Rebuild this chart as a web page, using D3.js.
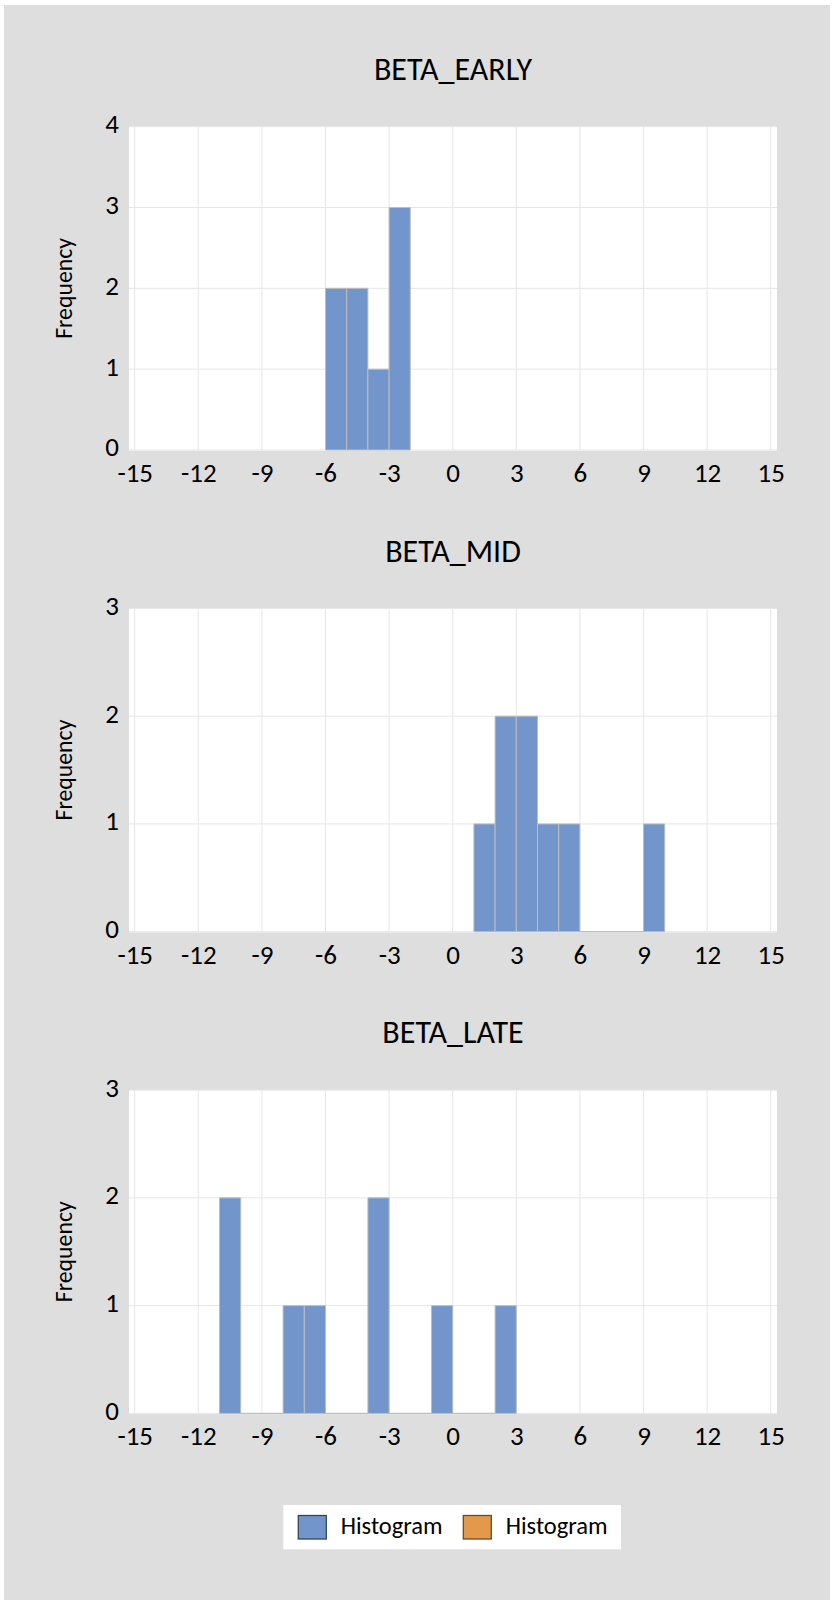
<!DOCTYPE html>
<html>
<head>
<meta charset="utf-8">
<script src="https://cdn.jsdelivr.net/npm/d3@7/dist/d3.min.js"></script>
<style>
  html, body { margin: 0; padding: 0; background: #ffffff; }
  svg { display: block; }
  text { font-family: Carlito, Calibri, Lato, "Open Sans", sans-serif; fill: #000; }
</style>
</head>
<body>
<svg id="chart" width="833" height="1604"></svg>
<script>
// Bin edges are 1 unit wide; each start value is paired with its count.
const binWidth = 1;

const earlyBinStarts = [-6, -5, -4, -3];
const earlyCounts    = [2, 2, 1, 3];

const midBinStarts = [1, 2, 3, 4, 5, 6, 7, 8, 9];
const midCounts    = [1, 2, 2, 1, 1, 0, 0, 0, 1];

const lateBinStarts = [-11, -10, -9, -8, -7, -6, -5, -4, -3, -2, -1, 0, 1, 2];
const lateCounts    = [2, 0, 0, 1, 1, 0, 0, 2, 0, 0, 1, 0, 0, 1];

const panelTitles = ["BETA_EARLY", "BETA_MID", "BETA_LATE"];
const xTickValues = [-15, -12, -9, -6, -3, 0, 3, 6, 9, 12, 15];
const earlyYTicks = [0, 1, 2, 3, 4];
const midYTicks   = [0, 1, 2, 3];
const lateYTicks  = [0, 1, 2, 3];

const legendLabels = ["Histogram", "Histogram"];
const legendColors = ["#7295cb", "#e3994b"];
const legendEdges  = ["#34455f", "#6b4a25"];

const panels = [
  { title: panelTitles[0], starts: earlyBinStarts, counts: earlyCounts, yTicks: earlyYTicks },
  { title: panelTitles[1], starts: midBinStarts,   counts: midCounts,   yTicks: midYTicks },
  { title: panelTitles[2], starts: lateBinStarts,  counts: lateCounts,  yTicks: lateYTicks }
];

const svg = d3.select("#chart");
const fontStack = "Carlito, Calibri, Lato, sans-serif";
const plainNumber = d => String(d); // keeps an ASCII hyphen for negatives

// grey chart area
svg.append("rect")
  .attr("x", 4).attr("y", 5)
  .attr("width", 826).attr("height", 1595)
  .attr("fill", "#dedede");

const plotLeft = 129, plotRight = 777;
const firstTop = 126.7, panelStep = 481.7, plotHeight = 323.3;

panels.forEach((p, i) => {
  const top = firstTop + i * panelStep;
  const bottom = top + plotHeight;
  const g = svg.append("g");

  const x = d3.scaleLinear().domain([-15, 15]).range([134.7, 770.7]);
  const yMax = d3.max(p.yTicks);
  const y = d3.scaleLinear().domain([0, yMax]).range([bottom, top]);

  // plot area
  g.append("rect")
    .attr("x", plotLeft).attr("y", top)
    .attr("width", plotRight - plotLeft).attr("height", plotHeight + 0.7)
    .attr("fill", "#ffffff");

  // vertical gridlines
  g.selectAll("line.vg").data(xTickValues).join("line")
    .attr("class", "vg")
    .attr("x1", d => x(d)).attr("x2", d => x(d))
    .attr("y1", top).attr("y2", bottom)
    .attr("stroke", "#e6e6e6").attr("stroke-width", 1);

  // horizontal gridlines
  g.selectAll("line.hg").data(p.yTicks).join("line")
    .attr("class", "hg")
    .attr("x1", plotLeft).attr("x2", plotRight)
    .attr("y1", d => y(d)).attr("y2", d => y(d))
    .attr("stroke", "#e6e6e6").attr("stroke-width", 1);

  // histogram bars (zero-count bins show as a line on the baseline)
  const bins = p.starts.map((s, k) => ({ x0: s, x1: s + binWidth, n: p.counts[k] }));
  g.selectAll("path.bar").data(bins).join("path")
    .attr("class", "bar")
    .attr("d", d => {
      const a = x(d.x0), b = x(d.x1), y0 = y(0), y1 = y(d.n);
      return `M${a},${y0}V${y1}H${b}V${y0}Z`;
    })
    .attr("fill", "#7295cb")
    .attr("stroke", "#bdbdbd")
    .attr("stroke-width", 1);

  // x axis labels
  const xAxis = g.append("g")
    .attr("transform", `translate(0,${bottom})`)
    .call(d3.axisBottom(x).tickValues(xTickValues).tickSize(0).tickPadding(12.8).tickFormat(plainNumber));
  xAxis.select(".domain").remove();
  xAxis.selectAll("text")
    .attr("font-size", 27).attr("fill", "#000")
    .style("font-family", fontStack);

  // y axis labels
  const yAxis = g.append("g")
    .attr("transform", `translate(${plotLeft},0)`)
    .call(d3.axisLeft(y).tickValues(p.yTicks).tickSize(0).tickPadding(10).tickFormat(plainNumber));
  yAxis.select(".domain").remove();
  yAxis.selectAll("text")
    .attr("font-size", 27).attr("fill", "#000").attr("dy", "0.22em")
    .style("font-family", fontStack);

  // panel title
  g.append("text")
    .attr("x", (plotLeft + plotRight) / 2)
    .attr("y", top - 46.7)
    .attr("text-anchor", "middle")
    .attr("font-size", 32)
    .text(p.title);

  // y axis title
  g.append("text")
    .attr("transform", `translate(72,${(top + bottom) / 2}) rotate(-90)`)
    .attr("text-anchor", "middle")
    .attr("font-size", 23.8)
    .text("Frequency");
});

// legend
const legend = svg.append("g");
legend.append("rect")
  .attr("x", 283.3).attr("y", 1505)
  .attr("width", 337.7).attr("height", 44.3)
  .attr("fill", "#ffffff");

const legendX = [298.3, 463.3];
legendLabels.forEach((lab, k) => {
  legend.append("rect")
    .attr("x", legendX[k]).attr("y", 1515.5)
    .attr("width", 28).attr("height", 23.5)
    .attr("fill", legendColors[k])
    .attr("stroke", legendEdges[k])
    .attr("stroke-width", 1.3);
  legend.append("text")
    .attr("x", legendX[k] + 42.4)
    .attr("y", 1533.8)
    .attr("font-size", 24.5)
    .text(lab);
});
</script>
</body>
</html>
